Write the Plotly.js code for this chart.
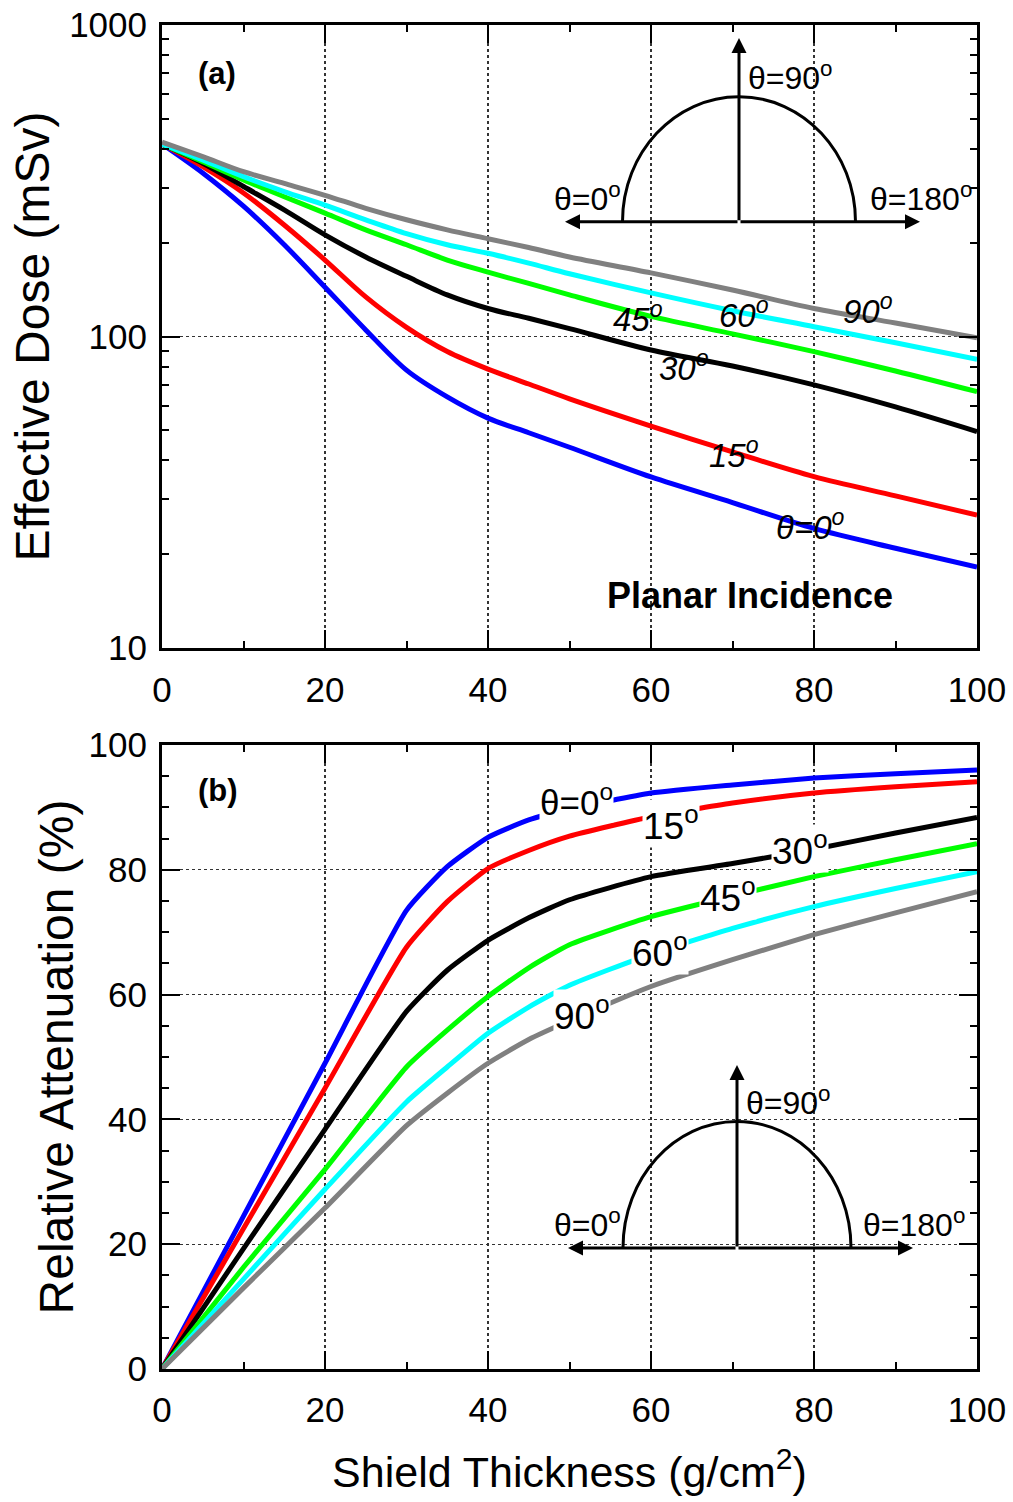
<!DOCTYPE html>
<html><head><meta charset="utf-8">
<script src="https://cdn.plot.ly/plotly-3.0.1.min.js"></script>
<style>body{margin:0;background:#fff}#chart{width:1013px;height:1502px}</style>
</head><body><div id="chart"></div>
<script>
// ---------- data ----------
const xDose = [0,5,10,15,20,25,30,35,40,45,50,60,70,80,90,100];
const dose0  = [415,335,262,197,144,105,78,64,54.7,49.1,44.1,35.4,29.3,24.2,20.9,18.2];
const dose15 = [415,351,289,228,176,134,107,89.5,78.6,70.4,63.1,51.6,42.6,35.5,30.8,26.7];
const dose30 = [415,360,303,255,212,180,156,136,123,114.4,106,90.5,80.4,69.9,59.4,49.5];
const dose45 = [415,364,318,281,249,220,197,176,161,148,136,116,102,89.4,77.5,66.5];
const dose60 = [415,369,326,292,264,237,214,197,185,172,159,138,121,107.5,95.5,84.5];
const dose90 = [421,378,338,310,284,258,237,220,206,193,180,160,141,123,110.5,99];

const xAtt = [0,10,20,30,35,40,45,50,60,70,80,90,100];
const att0  = [0,24.5,49,73.5,80.5,85.2,88,89.7,92.3,93.6,94.7,95.4,96.0];
const att15 = [0,22.5,45,67.6,74.9,80.2,83.1,85.4,88.5,90.7,92.3,93.3,94.1];
const att30 = [0,19.3,38.4,57.3,63.9,68.7,72.3,75.2,78.9,81.0,83.3,85.9,88.4];
const att45 = [0,16.3,32,48.4,54.3,59.7,64.3,68.0,72.5,75.8,78.9,81.6,84.2];
const att60 = [0,14.4,28.8,42.8,48.4,53.8,58.0,61.5,66.5,70.6,74.1,77.0,79.7];
const att90 = [0,13,25.8,39,44.2,49.0,52.8,55.8,61.3,65.6,69.6,73.1,76.5];

const angleNames = ['0','15','30','45','60','90'];
const colors = ['#0000ff','#ff0000','#000000','#00ff00','#00ffff','#808080'];
const xTickVals = [0,20,40,60,80,100];
const yTickA = [10,100,1000];
const yMinorA = [20,30,40,50,60,70,80,90,200,300,400,500,600,700,800,900];
const yTickB = [0,20,40,60,80,100];

// ---------- layout helpers ----------
const W = 1013, H = 1502;
const px = x => x / W, py = y => 1 - y / H;
const FONT = 'Liberation Sans, Arial, Helvetica, sans-serif';

const doses = [dose0,dose15,dose30,dose45,dose60,dose90];
const atts  = [att0,att15,att30,att45,att60,att90];
const traces = [];
doses.forEach((d,i)=>traces.push({x:xDose,y:d,xaxis:'x',yaxis:'y',mode:'lines',
  name:'θ='+angleNames[i]+'°',line:{color:colors[i],width:5,shape:'spline',smoothing:0.9},showlegend:false,hoverinfo:'skip'}));
atts.forEach((d,i)=>traces.push({x:xAtt,y:d,xaxis:'x2',yaxis:'y2',mode:'lines',
  name:'θ='+angleNames[i]+'°',line:{color:colors[i],width:5,shape:'spline',smoothing:0.5},showlegend:false,hoverinfo:'skip'}));

const tickFont = {family:FONT,size:35,color:'#000'};
const axisCommon = {
  showline:true, linewidth:3, linecolor:'#000', mirror:'allticks',
  ticks:'inside', ticklen:18, tickwidth:2, tickcolor:'#000',
  showgrid:true, gridcolor:'#333', griddash:'dot', gridwidth:1.3,
  zeroline:false, tickfont:tickFont, automargin:false
};
const xDomain = [px(162), px(977)];

function semicircle(cx, cy, rx, ry){
  const k = 0.5523;
  const P = (x,y)=> px(x).toFixed(5)+','+py(y).toFixed(5);
  return 'M'+P(cx-rx,cy)+' C'+P(cx-rx,cy-k*ry)+' '+P(cx-k*rx,cy-ry)+' '+P(cx,cy-ry)+
         ' C'+P(cx+k*rx,cy-ry)+' '+P(cx+rx,cy-k*ry)+' '+P(cx+rx,cy);
}
function arrow(tipX, tipY, tailX, tailY){
  return {xref:'paper',yref:'paper',x:px(tipX),y:py(tipY),ax:tailX-tipX,ay:tailY-tipY,
    showarrow:true,arrowhead:2,arrowsize:1,arrowwidth:3,arrowcolor:'#000',text:''};
}
function lab(text, x, y, size, extra){
  return Object.assign({xref:'paper',yref:'paper',x:px(x),y:py(y),text:text,showarrow:false,
    xanchor:'center',yanchor:'middle',font:{family:FONT,size:size,color:'#000'}}, extra||{});
}
const deg = '<sup>o</sup>';
const ital = {font:{family:FONT,size:33,color:'#000',style:'italic'}};
const boxB = {bgcolor:'#ffffff',borderpad:0};

const annotations = [
  lab('<b>(a)</b>',217,73,31),
  lab('<b>(b)</b>',218,790,31),
  lab('<b>Planar Incidence</b>',750,595,36),
  // inset (a)
  arrow(565,221.7,739,221.7), arrow(920,221.7,739,221.7), arrow(739,38,739,221.7),
  lab('θ=90'+deg,790,76,32), lab('θ=0'+deg,587,197,32), lab('θ=180'+deg,921,197,32),
  // inset (b)
  arrow(568,1248,737,1248), arrow(913,1248,737,1248), arrow(737,1065,737,1248),
  lab('θ=90'+deg,788,1101,32), lab('θ=0'+deg,587,1223,32), lab('θ=180'+deg,914,1223,32),
  // curve labels (a)
  lab('90'+deg,868,309,33,ital), lab('60'+deg,744,313,33,ital), lab('45'+deg,638,317,33,ital),
  lab('30'+deg,684,366,33,ital), lab('15'+deg,734,453,33,ital), lab('θ=0'+deg,810,525,33,ital),
  // curve labels (b)
  lab('θ=0'+deg,576,800,35,boxB), lab('15'+deg,671,823,37,boxB), lab('30'+deg,800,848,37,boxB),
  lab('45'+deg,728,895,37,boxB), lab('60'+deg,660,950,37,boxB), lab('90'+deg,582,1013,37,boxB)
];

const shapes = [
  {type:'path',xref:'paper',yref:'paper',path:semicircle(739,221.7,116.5,125),line:{color:'#000',width:3}},
  {type:'path',xref:'paper',yref:'paper',path:semicircle(737,1248,114,126.5),line:{color:'#000',width:3}}
];

const layout = {
  width:W, height:H, margin:{l:0,r:0,t:0,b:0},
  paper_bgcolor:'#fff', plot_bgcolor:'#fff', showlegend:false,
  font:{family:FONT,color:'#000'},
  xaxis: Object.assign({}, axisCommon, {domain:xDomain, anchor:'y', range:[0,100],
    tickmode:'array', tickvals:xTickVals, ticklabelstandoff:9,
    minor:{dtick:10,tick0:0,ticks:'inside',ticklen:7,tickwidth:2,tickcolor:'#000',showgrid:false}}),
  yaxis: Object.assign({}, axisCommon, {domain:[py(648),py(25)], anchor:'x', type:'log', range:[1,3],
    tickmode:'array', tickvals:yTickA, ticktext:yTickA.map(String), ticklabelstandoff:5,
    title:{text:'Effective Dose (mSv)',font:{family:FONT,size:48,color:'#000'},standoff:5},
    minor:{tickmode:'array',tickvals:yMinorA,ticks:'inside',ticklen:7,tickwidth:2,tickcolor:'#000',showgrid:false}}),
  xaxis2: Object.assign({}, axisCommon, {domain:xDomain, anchor:'y2', range:[0,100],
    tickmode:'array', tickvals:xTickVals, ticklabelstandoff:8,
    title:{text:'Shield Thickness (g/cm<sup>2</sup>)',font:{family:FONT,size:43,color:'#000'},standoff:29},
    minor:{dtick:10,tick0:0,ticks:'inside',ticklen:7,tickwidth:2,tickcolor:'#000',showgrid:false}}),
  yaxis2: Object.assign({}, axisCommon, {domain:[py(1369),py(745)], anchor:'x2', range:[0,100],
    tickmode:'array', tickvals:yTickB, ticklabelstandoff:5,
    title:{text:'Relative Attenuation (%)',font:{family:FONT,size:48,color:'#000'},standoff:0},
    minor:{dtick:5,tick0:0,ticks:'inside',ticklen:7,tickwidth:2,tickcolor:'#000',showgrid:false}}),
  annotations: annotations,
  shapes: shapes
};

Plotly.newPlot('chart', traces, layout, {staticPlot:true, displayModeBar:false});
</script>
</body></html>
